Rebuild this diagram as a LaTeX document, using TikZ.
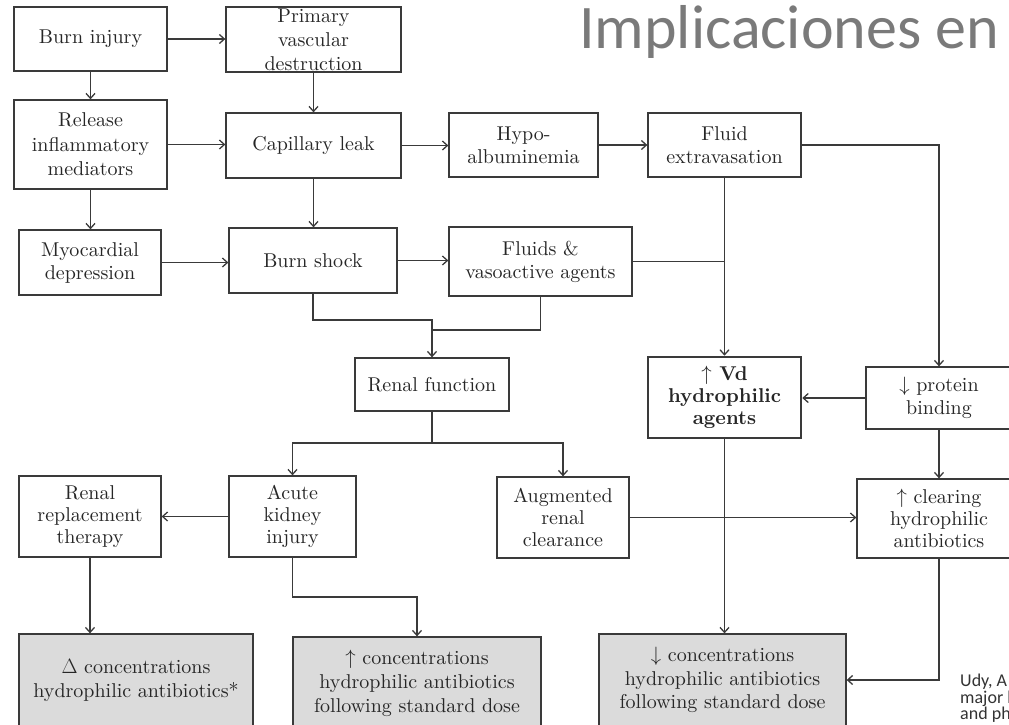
\documentclass[tikz,border=0pt]{standalone}
\usepackage{fontspec}
\setmainfont{lmroman10-regular.otf}[BoldFont=lmroman10-bold.otf]
\usepackage{tikz}
\usetikzlibrary{arrows.meta,positioning,calc}
\newfontfamily\slidefont{Carlito}
\definecolor{inkgray}{HTML}{3A3A3A}
\definecolor{shadegray}{HTML}{DBDBDB}
\definecolor{titlegray}{HTML}{7A7A7A}

\begin{document}
\begin{tikzpicture}[
    x=1pt,y=-1pt,
    font=\fontsize{20}{23}\selectfont,
    box/.style={draw=inkgray,line width=1.3pt,fill=white,align=center,inner sep=0pt,text=black!85},
    keybox/.style={box,line width=2.6pt,font=\fontsize{20}{22}\selectfont\bfseries},
    outbox/.style={box,fill=shadegray},
    arrow/.style={-{Straight Barb[length=5pt,width=9pt]},line width=1.3pt,draw=inkgray},
    link/.style={line width=1.3pt,draw=inkgray}
  ]
    \useasboundingbox (0,0) rectangle (1009,724);
    \clip (0,0) rectangle (1009,724);

    \node[font=\slidefont\fontsize{62}{62}\selectfont,text=titlegray,anchor=base west,inner sep=0pt]
      (title) at (579,48) {Implicaciones en};

    \node[box,minimum width=153pt,minimum height=64pt] (burn) at (90.5,39) {Burn injury};
    \node[box,minimum width=175pt,minimum height=65pt,font=\fontsize{20}{24}\selectfont]
      (primary) at (313.5,39.5) {Primary\\vascular\\destruction};
    \node[box,minimum width=153pt,minimum height=89pt,font=\fontsize{20}{24.5}\selectfont]
      (release) at (90.5,144.5) {Release\\inflammatory\\mediators};
    \node[box,minimum width=175pt,minimum height=65pt] (capillary) at (313.5,145.5) {Capillary leak};
    \node[box,minimum width=149pt,minimum height=64pt] (hypo) at (523.5,145) {Hypo-\\albuminemia};
    \node[box,minimum width=153pt,minimum height=64pt] (fluidext) at (724.5,145) {Fluid\\extravasation};
    \node[box,minimum width=142pt,minimum height=65pt] (myo) at (90,262.5) {Myocardial\\depression};
    \node[box,minimum width=168pt,minimum height=65pt] (shock) at (313,260.5) {Burn shock};
    \node[box,minimum width=183pt,minimum height=69pt] (fluids) at (540.5,261.5) {Fluids \&\\vasoactive agents};
    \node[box,minimum width=154pt,minimum height=53pt] (renal) at (432,384.5) {Renal function};
    \node[keybox,minimum width=153pt,minimum height=81pt] (vd) at (724.5,397.5) {$\uparrow$ Vd\\hydrophilic\\agents};
    \node[box,minimum width=146pt,minimum height=62pt] (protein) at (939,398) {$\downarrow$ protein\\binding};
    \node[box,minimum width=142pt,minimum height=81pt,font=\fontsize{20}{22}\selectfont]
      (rrt) at (90,516.5) {Renal\\replacement\\therapy};
    \node[box,minimum width=127pt,minimum height=81pt,font=\fontsize{20}{22}\selectfont]
      (aki) at (292.5,516.5) {Acute\\kidney\\injury};
    \node[box,minimum width=132pt,minimum height=81pt,font=\fontsize{20}{22}\selectfont]
      (aug) at (563,517.5) {Augmented\\renal\\clearance};
    \node[box,minimum width=164pt,minimum height=79pt,font=\fontsize{20}{22}\selectfont]
      (clearing) at (939,518.5) {$\uparrow$ clearing\\hydrophilic\\antibiotics};
    \node[outbox,minimum width=234pt,minimum height=93pt,font=\fontsize{20}{24}\selectfont]
      (concdelta) at (136,680.5) {$\Delta$ concentrations\\hydrophilic antibiotics*};
    \node[outbox,minimum width=248pt,minimum height=92pt,font=\fontsize{20}{24}\selectfont]
      (concup) at (417,683) {$\uparrow$ concentrations\\hydrophilic antibiotics\\following standard dose};
    \node[outbox,minimum width=247pt,minimum height=92pt,font=\fontsize{20}{23.5}\selectfont]
      (concdown) at (722.5,680) {$\downarrow$ concentrations\\hydrophilic antibiotics\\following standard dose};

    \node[font=\slidefont\fontsize{18}{16.5}\selectfont,text=black!80,anchor=north west,align=left,inner sep=0pt]
      (source) at (960,674) {Udy, A\\major b\\and ph};

    \coordinate (shockbend) at (432,320);
    \coordinate (fluidsbend) at (432,330);
    \coordinate (renalsplit) at (432,443);
    \coordinate (akibend) at (292.5,597);

    \draw[arrow] (burn.east) -- (burn.east -| primary.west);
    \draw[arrow] (burn.south) -- (release.north);
    \draw[arrow] (primary.south) -- (primary.south |- capillary.north);
    \draw[arrow] (release.east) -- (release.east -| capillary.west);
    \draw[arrow] (capillary.east) -- (capillary.east -| hypo.west);
    \draw[arrow] (hypo.east) -- (hypo.east -| fluidext.west);
    \draw[arrow] (release.south) -- (release.south |- myo.north);
    \draw[arrow] (capillary.south) -- (capillary.south |- shock.north);
    \draw[arrow] (myo.east) -- (myo.east -| shock.west);
    \draw[arrow] (shock.east) -- (shock.east -| fluids.west);
    \draw[link] (fluids.east) -- (fluids.east -| vd.north);
    \draw[arrow] (fluidext.south) -- (vd.north);
    \draw[arrow] (fluidext.east) -| (protein.north);
    \draw[arrow] (shock.south) |- (shockbend) -- (renal.north);
    \draw[link] (fluids.south) |- (fluidsbend);
    \draw[arrow] (renal.south) -- (renalsplit) -| (aki.north);
    \draw[arrow] (renalsplit) -| (aug.north);
    \draw[arrow] (protein.west) -- (protein.west -| vd.east);
    \draw[arrow] (protein.south) -- (clearing.north);
    \draw[arrow] (aki.west) -- (aki.west -| rrt.east);
    \draw[arrow] (aug.east) -- (aug.east -| clearing.west);
    \draw[arrow] (rrt.south) -- (rrt.south |- concdelta.north);
    \draw[arrow] (aki.south) -- (akibend) -| (concup.north);
    \draw[arrow] (vd.south) -- (vd.south |- concdown.north);
    \draw[arrow] (clearing.south) |- (concdown.east);
  \end{tikzpicture}
\end{document}
